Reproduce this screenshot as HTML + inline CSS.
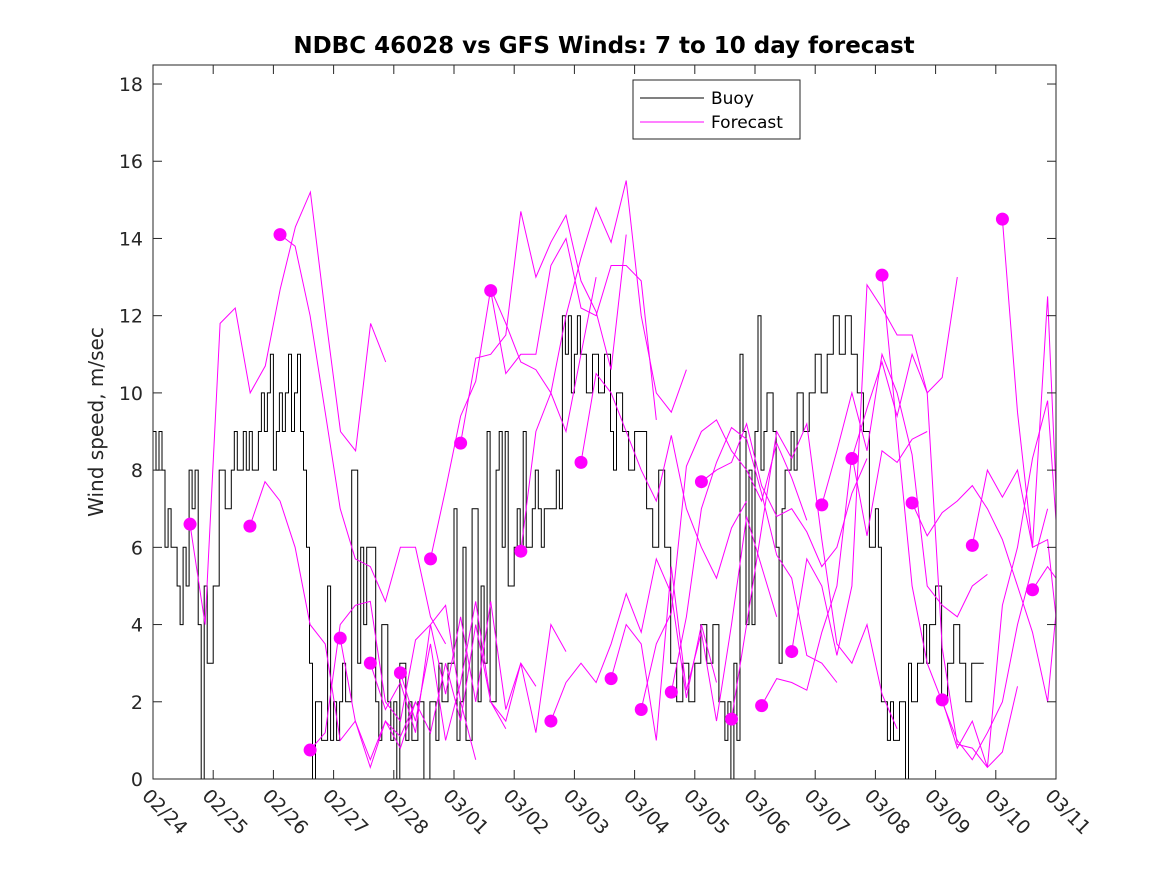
<!DOCTYPE html>
<html><head><meta charset="utf-8"><style>
body{margin:0;background:#fff;}
svg text{font-family:"DejaVu Sans","Liberation Sans",sans-serif;}
</style></head><body>
<svg id="chart" width="1167" height="875" xmlns="http://www.w3.org/2000/svg">
<rect width="1167" height="875" fill="#fff"/>
<text x="604" y="53" text-anchor="middle" font-size="23" font-weight="bold" fill="#000">NDBC 46028 vs GFS Winds: 7 to 10 day forecast</text>
<text transform="translate(103,422) rotate(-90)" text-anchor="middle" font-size="20" fill="#262626">Wind speed, m/sec</text>
<g id="plot"></g>
<g id="axes"></g>
<g>
<rect x="633" y="80" width="167" height="59" fill="#fff" stroke="#262626" stroke-width="1"/>
<line x1="640" y1="98" x2="704" y2="98" stroke="#000"/>
<text x="711" y="104" font-size="17" fill="#000">Buoy</text>
<line x1="640" y1="122" x2="704" y2="122" stroke="#ff00ff"/>
<text x="711" y="128" font-size="17" fill="#000">Forecast</text>
</g>
</svg>
<script>
const xTickLabels=["02/24","02/25","02/26","02/27","02/28","03/01","03/02","03/03","03/04","03/05","03/06","03/07","03/08","03/09","03/10","03/11"];
const yTicks=[0,2,4,6,8,10,12,14,16,18];
const buoyDays=[0,0.05,0.1,0.15,0.2,0.25,0.3,0.35,0.4,0.45,0.5,0.55,0.6,0.65,0.7,0.75,0.8,0.85,0.9,1.0,1.1,1.2,1.25,1.3,1.35,1.4,1.5,1.55,1.6,1.65,1.7,1.75,1.8,1.85,1.9,1.95,2.0,2.05,2.1,2.15,2.2,2.25,2.3,2.35,2.4,2.45,2.5,2.55,2.6,2.65,2.7,2.8,2.9,2.95,3.0,3.05,3.1,3.15,3.2,3.3,3.4,3.45,3.5,3.55,3.6,3.7,3.75,3.8,3.9,3.95,4.0,4.05,4.1,4.2,4.25,4.3,4.4,4.5,4.6,4.7,4.75,4.8,4.9,5.0,5.05,5.1,5.15,5.2,5.3,5.4,5.45,5.5,5.55,5.6,5.7,5.75,5.8,5.85,5.9,6.0,6.05,6.1,6.15,6.2,6.3,6.35,6.4,6.45,6.5,6.6,6.7,6.75,6.8,6.85,6.9,6.95,7.0,7.05,7.1,7.2,7.3,7.4,7.5,7.6,7.65,7.7,7.8,7.9,8.0,8.1,8.2,8.3,8.4,8.5,8.6,8.7,8.8,8.9,9.0,9.1,9.2,9.3,9.4,9.5,9.55,9.6,9.65,9.7,9.75,9.8,9.85,9.9,9.95,10.0,10.05,10.1,10.15,10.2,10.3,10.35,10.4,10.45,10.5,10.6,10.65,10.7,10.8,10.9,11.0,11.1,11.2,11.3,11.4,11.5,11.6,11.7,11.8,11.9,12.0,12.05,12.1,12.2,12.25,12.3,12.4,12.5,12.55,12.6,12.7,12.8,12.85,12.9,13.0,13.1,13.2,13.3,13.4,13.5,13.6,13.7,13.8,13.9,14.0,14.1,14.2,14.3,14.4,14.5];
const buoyVals=[9,8,9,8,6,7,6,6,5,4,6,5,8,7,8,4,0,5,3,5,8,7,7,8,9,8,9,8,9,8,8,9,10,9,10,11,8,9,10,9,10,11,9,10,11,9,8,6,3,0,2,1,5,1,2,1,2,3,2,8,3,6,4,6,6,2,1,4,2,1,2,0,3,1,2,1,2,0,2,1,3,2,3,7,1,2,6,1,7,2,5,3,9,2,8,9,6,9,5,6,7,6,9,6,7,8,7,6,7,7,8,7,12,11,12,10,11,12,11,10,11,10,11,9,8,10,9,8,9,9,7,6,8,6,3,2,3,2,3,4,3,4,2,1,2,0,3,1,11,9,4,8,4,9,12,8,9,10,9,6,3,7,8,9,8,10,9,10,11,10,11,12,11,12,11,10,9,6,7,6,2,1,2,1,2,0,3,2,3,4,3,4,5,2,3,4,3,2,3,3];
const fcStart=[0.615,1.61,2.11,2.61,3.11,3.61,4.11,4.61,5.11,5.61,6.11,6.61,7.11,7.61,8.11,8.61,9.11,9.61,10.11,10.61,11.11,11.61,12.11,12.61,13.11,13.61,14.11,14.61];
const fcVals=[
[6.6,4,11.8,12.2,10,10.7,12.7,14.3,15.2,12,9,8.5,11.8,10.8],
[6.55,7.7,7.2,6,4,3.5,1,1.5,0.5,1.5,1.1,2],
[14.1,13.8,12,9.5,7,5.7,5.5,4.6,6,6,4.2,3.5],
[0.75,1.2,4,4.5,4.6,2,1.5,3.6,4,4.5,2,0.5],
[3.65,1.5,0.3,1.5,0.8,2,1.2,3,1.5,4,2,1.3],
[3,1.8,2.5,1.2,4,2.2,4.2,2,4.6,1.8,3,2.4],
[2.75,1.5,3.5,1,2.5,4.6,2,1.5,3,1.2,4,3.3],
[5.7,7.5,9.4,10.3,12.7,11.8,10.8,10.6,10,9,11,13],
[8.7,10.9,11,11.5,14.7,13,13.9,14.6,12.9,12.1,10.6,14.1],
[12.65,10.5,11,11,13.3,14,12.2,12,13.3,13.3,12.9,9.3],
[5.9,9,10,12,13.5,14.8,13.9,15.5,12,10,9.5,10.6],
[1.5,2.5,3,2.5,3.5,4.8,3.8,5.7,4.8,2.1,4,2.5],
[8.2,10.5,10,9,8,7.2,8.9,7,6,5.2,6.5,7.2],
[2.6,4,3.5,1,5.5,2.3,3.8,1.5,4,6.8,5.5,4.2],
[1.8,3.5,4.3,8.1,9,9.3,8.5,8,7.2,8.7,7.8,6.7],
[2.25,4.2,7,8.2,9.1,8.8,7.4,5.8,5.2,3.2,3,2.5],
[7.7,8,8.2,9.2,7.6,6.8,7,6.4,5.5,6,7.4,8.3],
[1.55,4,6.5,9,8.3,9.2,6.2,3.5,3,4,2.2,1.3],
[1.9,2.6,2.5,2.3,3.8,5,8.4,6.3,8.5,8.2,8.8,9],
[3.3,5.7,5,3.2,5,12.8,12.2,11.5,11.5,10,10.4,13],
[7.1,8.5,10,8.5,11,10,8.4,5,4.5,4.2,5,5.3],
[8.3,9.6,10.8,9.4,11,10,3.4,0.9,0.8,0.3,0.7,2.4],
[13.05,9,5,3,2,1,0.5,1.2,2,4,5.5,7],
[7.15,6.3,6.9,7.2,7.6,7,6.2,5,3.8,2,4.3,3.5],
[2.05,0.8,1.5,0.3,4.5,6,8.3,9.8,6.7,9.4,8.2,9.4],
[6.05,8,7.3,8,6,12.5,7.5,2,1.5,1,1.5,1],
[14.5,9.5,6,6.2,4.2,4.5,2,4.5,5.5,2.7,12.2,5.2],
[4.9,5.5,5.2,12.2,8,3.5,3.2,5,3.8,3.6,11.9,18]
];
const X0=153,X1=1056,Y0=779,PXU=38.61,PXD=(X1-X0)/15;
const xs=d=>X0+d*PXD, ys=v=>Y0-v*PXU;
const NS="http://www.w3.org/2000/svg";
const plot=document.getElementById('plot'), axes=document.getElementById('axes');
function mk(t,a,p){const e=document.createElementNS(NS,t);for(const k in a)e.setAttribute(k,a[k]);(p||plot).appendChild(e);return e;}
let d="";
for(let i=0;i<buoyDays.length;i++){const x=xs(buoyDays[i]).toFixed(1),y=ys(buoyVals[i]).toFixed(1);
 if(i===0)d+=`M${x},${y}`;else d+=`H${x}V${y}`;}
d+=`H${xs(14.65).toFixed(1)}`;
const bl=mk('path',{d:d,fill:'none',stroke:'#000','stroke-width':1});


fcStart.forEach((s,i)=>{
 const pts=fcVals[i].map((v,j)=>{let dd=s+j*0.25;if(dd>15)dd=15;return xs(dd).toFixed(1)+","+ys(v).toFixed(1);});
 const pl=mk('polyline',{points:pts.join(" "),fill:'none',stroke:'#ff00ff','stroke-width':1});
 
 
});
fcStart.forEach((s,i)=>{
 const c=mk('circle',{cx:xs(s),cy:ys(fcVals[i][0]),r:6.5,fill:'#ff00ff'});
 
 
});
const box=mk('rect',{x:X0,y:65,width:X1-X0,height:Y0-65,fill:'none',stroke:'#262626','stroke-width':1},axes);


yTicks.forEach(v=>{
 mk('line',{x1:X0,x2:X0+9,y1:ys(v),y2:ys(v),stroke:'#262626'},axes);
 mk('line',{x1:X1,x2:X1-9,y1:ys(v),y2:ys(v),stroke:'#262626'},axes);
 const t=mk('text',{x:X0-10,y:ys(v)+7,'text-anchor':'end','font-size':19,fill:'#262626'},axes);
 t.textContent=v;
 
 
});
xTickLabels.forEach((l,i)=>{
 const x=xs(i);
 mk('line',{x1:x,x2:x,y1:Y0,y2:Y0-9,stroke:'#262626'},axes);
 mk('line',{x1:x,x2:x,y1:65,y2:74,stroke:'#262626'},axes);
 const t=mk('text',{transform:`translate(${x-12},${Y0+18}) rotate(45)`,'font-size':19,fill:'#262626'},axes);
 t.textContent=l;
 
 
});
</script>
</body></html>
